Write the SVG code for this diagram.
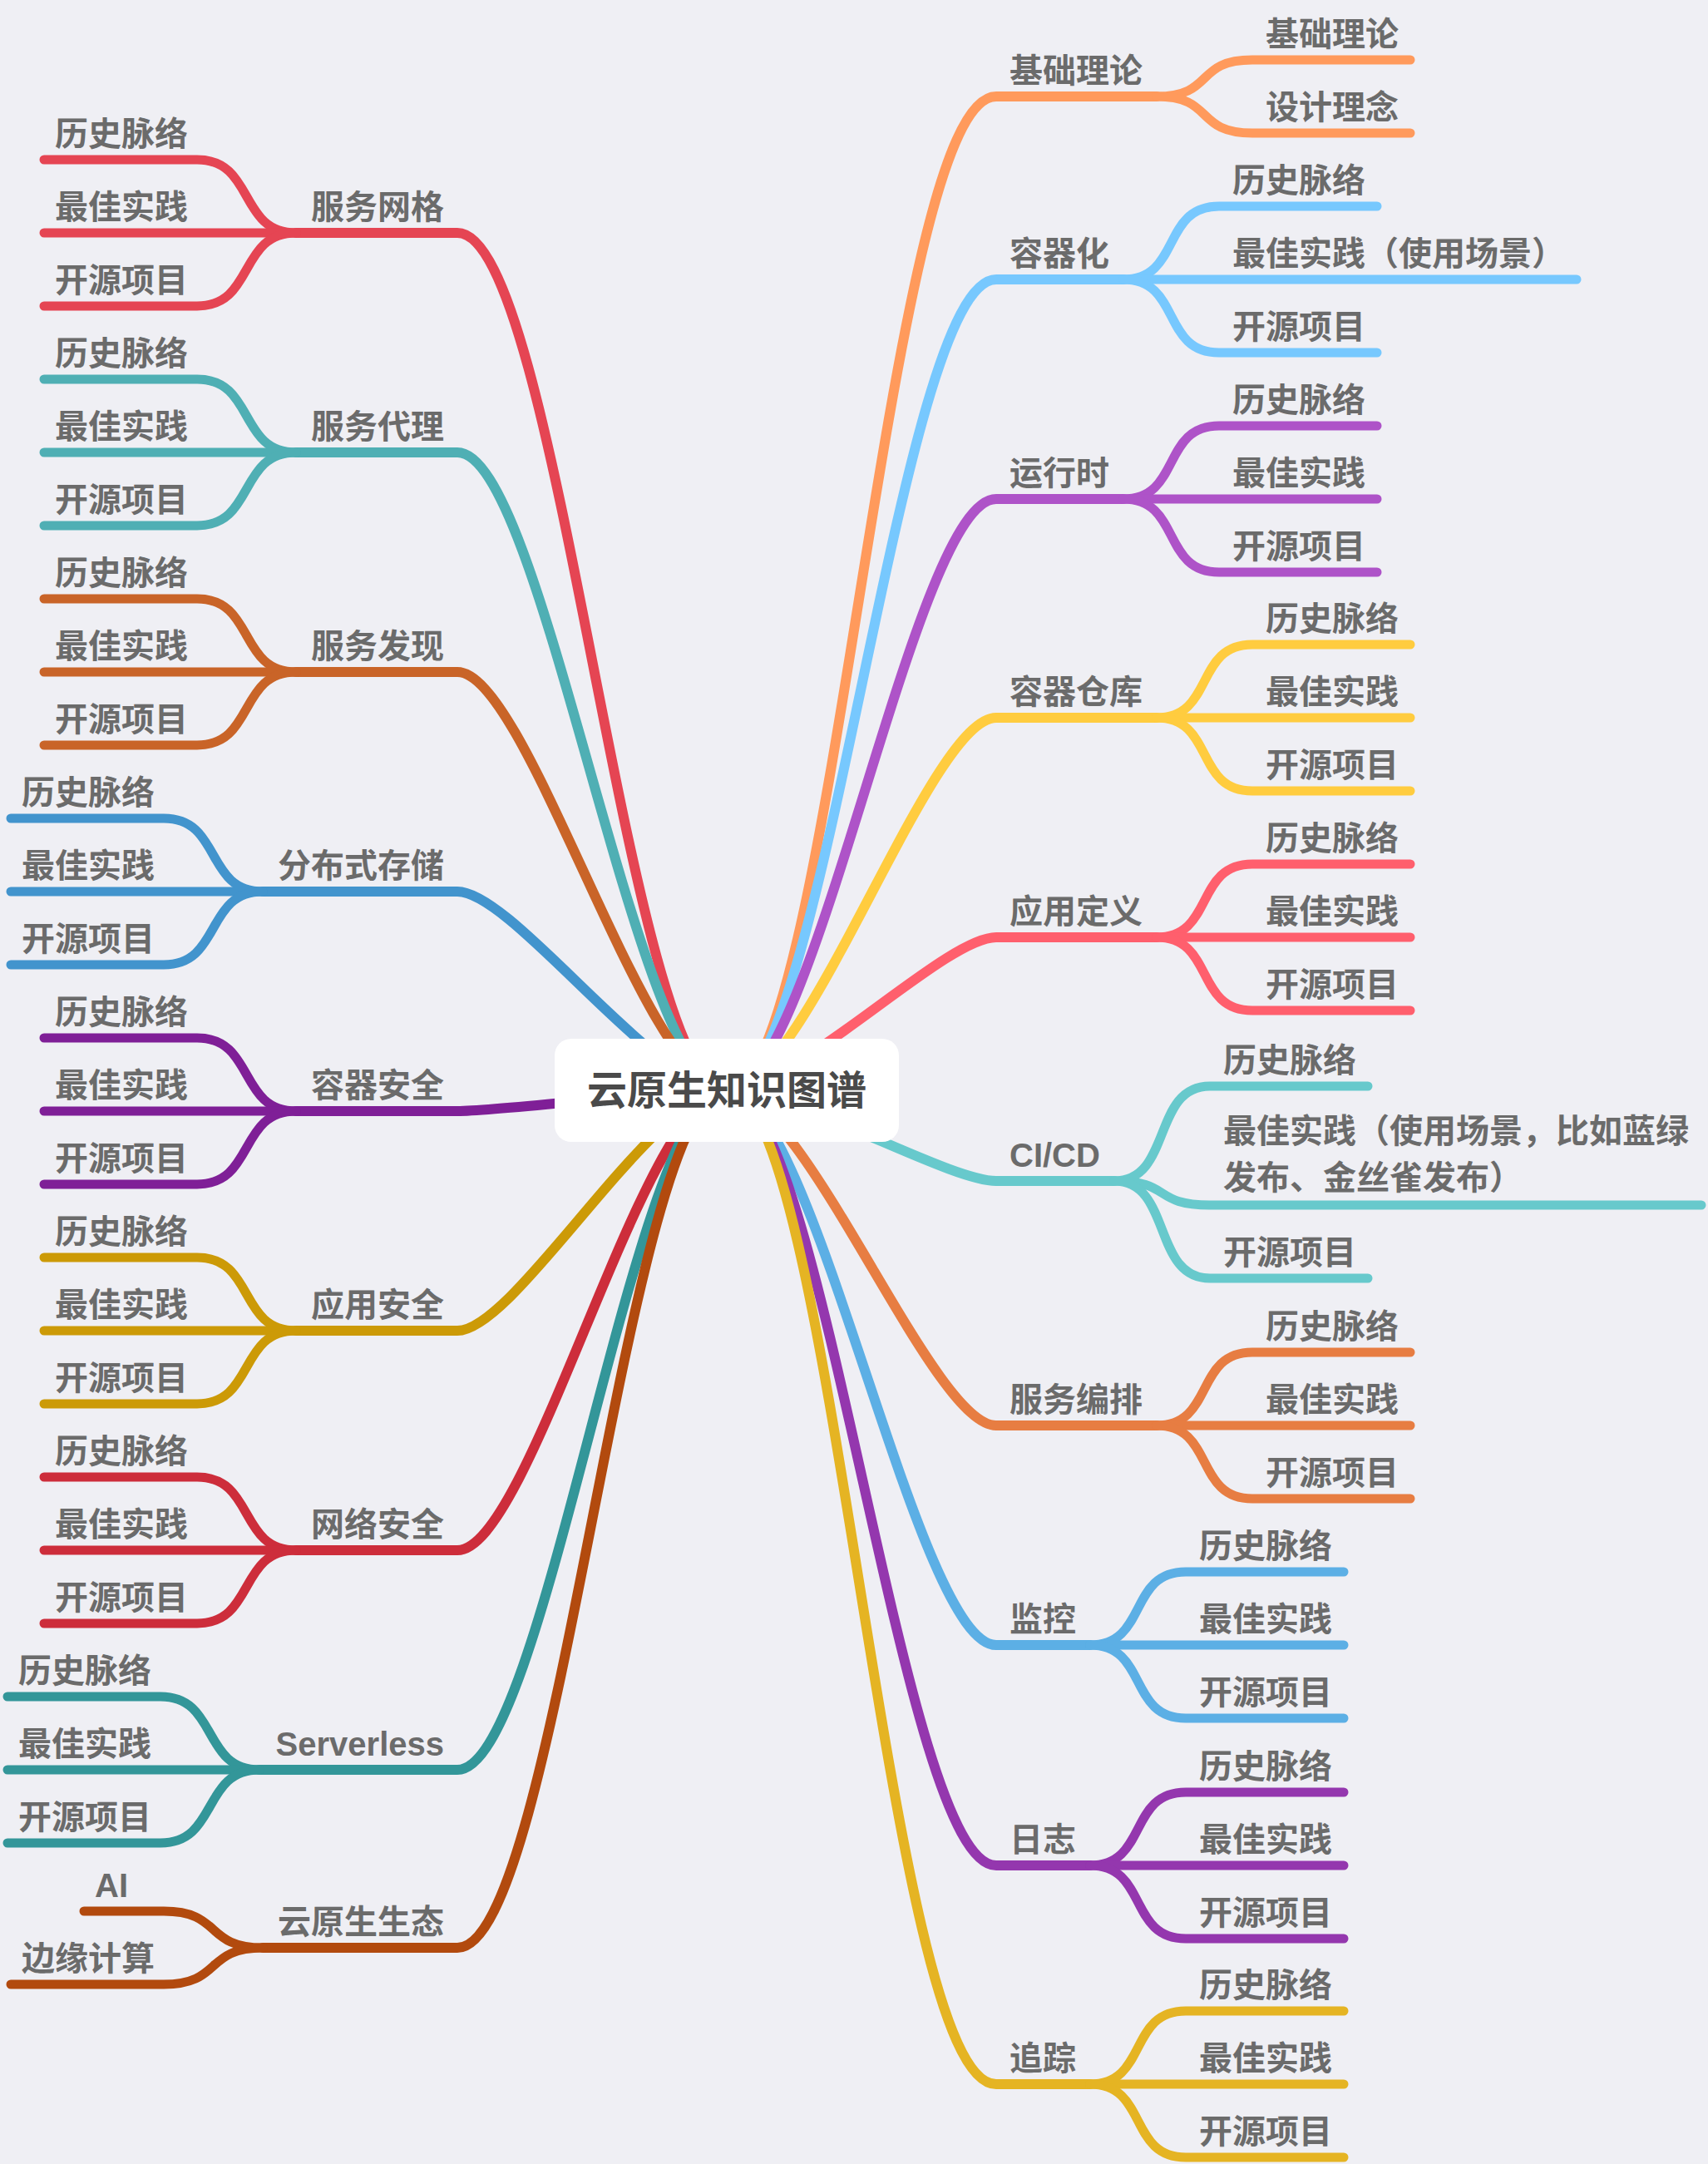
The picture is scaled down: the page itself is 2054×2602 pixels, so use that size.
<svg xmlns="http://www.w3.org/2000/svg" width="2054" height="2602" viewBox="0 0 2054 2602">
  <style>
    .ln { fill: none; stroke-linecap: round; stroke-linejoin: round; }
    .main { stroke-width: 12; }
    .leaf { stroke-width: 11; }
    .t { font-family: "Liberation Sans", "Noto Sans CJK SC", sans-serif; font-weight: 700; font-size: 40px; fill: #6b6b6b; }
    .end { text-anchor: end; }
    .title { font-family: "Liberation Sans", "Noto Sans CJK SC", sans-serif; font-weight: 700; font-size: 48px; fill: #4a4a4a; text-anchor: middle; }
    .r1 { stroke: #ff9a5c; } .r2 { stroke: #77c8fe; } .r3 { stroke: #ae53c8; } .r4 { stroke: #ffcc3f; }
    .r5 { stroke: #ff5f6d; } .r6 { stroke: #67c9cc; } .r7 { stroke: #e77d42; } .r8 { stroke: #5cafe5; }
    .r9 { stroke: #9437ae; } .r10 { stroke: #e5b423; }
    .l1 { stroke: #e54553; } .l2 { stroke: #4fafb4; } .l3 { stroke: #c96428; } .l4 { stroke: #4294cd; }
    .l5 { stroke: #7f1f97; } .l6 { stroke: #cc9a07; } .l7 { stroke: #cd2d3b; } .l8 { stroke: #339699; }
    .l9 { stroke: #b24a0e; }
  </style>
  <rect width="2054" height="2602" fill="#efeff4"/>

  <g id="connectors" class="ln">
    <!-- right main branches -->
    <path class="main r1" d="M874 1311 C1003 1311 1064 116 1198 116 H1391"/>
    <path class="main r2" d="M874 1311 C993 1311 1080 336 1198 336 H1351"/>
    <path class="main r3" d="M874 1311 C981 1311 1098 600 1198 600 H1351"/>
    <path class="main r4" d="M874 1311 C969 1311 1117 863 1198 863 H1391"/>
    <path class="main r5" d="M874 1311 C957 1311 1135 1127 1198 1127 H1391"/>
    <path class="main r6" d="M874 1311 C954 1311 1140 1420 1198 1420 H1340"/>
    <path class="main r7" d="M874 1311 C967 1311 1120 1714 1198 1714 H1391"/>
    <path class="main r8" d="M874 1311 C979 1311 1101 1978 1198 1978 H1311"/>
    <path class="main r9" d="M874 1311 C991 1311 1083 2243 1198 2243 H1311"/>
    <path class="main r10" d="M874 1311 C1003 1311 1064 2506 1198 2506 H1311"/>
    <!-- left main branches -->
    <path class="main l1" d="M874 1311 C753 1311 672 280 550 280 H356"/>
    <path class="main l2" d="M874 1311 C764 1311 654 544 550 544 H356"/>
    <path class="main l3" d="M874 1311 C776 1311 635 808 550 808 H356"/>
    <path class="main l4" d="M874 1311 C788 1311 617 1072 550 1072 H316"/>
    <path class="main l5" d="M874 1311 C798 1311 602 1336 550 1336 H356"/>
    <path class="main l6" d="M874 1311 C786 1311 620 1600 550 1600 H356"/>
    <path class="main l7" d="M874 1311 C774 1311 639 1864 550 1864 H356"/>
    <path class="main l8" d="M874 1311 C762 1311 657 2128 550 2128 H312"/>
    <path class="main l9" d="M874 1311 C753 1311 672 2342 550 2342 H316"/>

    <!-- right sub branches -->
    <path class="leaf r1" d="M1391 116 C1461 116 1436 72 1506 72 H1696"/>
    <path class="leaf r1" d="M1391 116 C1461 116 1436 160 1506 160 H1696"/>

    <path class="leaf r2" d="M1351 336 C1421 336 1396 248 1466 248 H1656"/>
    <path class="leaf r2" d="M1351 336 H1896"/>
    <path class="leaf r2" d="M1351 336 C1421 336 1396 424 1466 424 H1656"/>

    <path class="leaf r3" d="M1351 600 C1421 600 1396 512 1466 512 H1656"/>
    <path class="leaf r3" d="M1351 600 H1656"/>
    <path class="leaf r3" d="M1351 600 C1421 600 1396 688 1466 688 H1656"/>

    <path class="leaf r4" d="M1391 863 C1461 863 1436 775 1506 775 H1696"/>
    <path class="leaf r4" d="M1391 863 H1696"/>
    <path class="leaf r4" d="M1391 863 C1461 863 1436 951 1506 951 H1696"/>

    <path class="leaf r5" d="M1391 1127 C1461 1127 1436 1039 1506 1039 H1696"/>
    <path class="leaf r5" d="M1391 1127 H1696"/>
    <path class="leaf r5" d="M1391 1127 C1461 1127 1436 1215 1506 1215 H1696"/>

    <path class="leaf r6" d="M1340 1420 C1410 1420 1385 1306 1455 1306 H1645"/>
    <path class="leaf r6" d="M1340 1420 C1410 1420 1385 1449 1455 1449 H2046"/>
    <path class="leaf r6" d="M1340 1420 C1410 1420 1385 1537 1455 1537 H1645"/>

    <path class="leaf r7" d="M1391 1714 C1461 1714 1436 1626 1506 1626 H1696"/>
    <path class="leaf r7" d="M1391 1714 H1696"/>
    <path class="leaf r7" d="M1391 1714 C1461 1714 1436 1802 1506 1802 H1696"/>

    <path class="leaf r8" d="M1311 1978 C1381 1978 1356 1890 1426 1890 H1616"/>
    <path class="leaf r8" d="M1311 1978 H1616"/>
    <path class="leaf r8" d="M1311 1978 C1381 1978 1356 2066 1426 2066 H1616"/>

    <path class="leaf r9" d="M1311 2243 C1381 2243 1356 2155 1426 2155 H1616"/>
    <path class="leaf r9" d="M1311 2243 H1616"/>
    <path class="leaf r9" d="M1311 2243 C1381 2243 1356 2331 1426 2331 H1616"/>

    <path class="leaf r10" d="M1311 2506 C1381 2506 1356 2418 1426 2418 H1616"/>
    <path class="leaf r10" d="M1311 2506 H1616"/>
    <path class="leaf r10" d="M1311 2506 C1381 2506 1356 2594 1426 2594 H1616"/>

    <!-- left sub branches -->
    <path class="leaf l1" d="M356 280 C286 280 307 192 237 192 H53"/>
    <path class="leaf l1" d="M356 280 H53"/>
    <path class="leaf l1" d="M356 280 C286 280 307 368 237 368 H53"/>

    <path class="leaf l2" d="M356 544 C286 544 307 456 237 456 H53"/>
    <path class="leaf l2" d="M356 544 H53"/>
    <path class="leaf l2" d="M356 544 C286 544 307 632 237 632 H53"/>

    <path class="leaf l3" d="M356 808 C286 808 307 720 237 720 H53"/>
    <path class="leaf l3" d="M356 808 H53"/>
    <path class="leaf l3" d="M356 808 C286 808 307 896 237 896 H53"/>

    <path class="leaf l4" d="M316 1072 C246 1072 267 984 197 984 H13"/>
    <path class="leaf l4" d="M316 1072 H13"/>
    <path class="leaf l4" d="M316 1072 C246 1072 267 1160 197 1160 H13"/>

    <path class="leaf l5" d="M356 1336 C286 1336 307 1248 237 1248 H53"/>
    <path class="leaf l5" d="M356 1336 H53"/>
    <path class="leaf l5" d="M356 1336 C286 1336 307 1424 237 1424 H53"/>

    <path class="leaf l6" d="M356 1600 C286 1600 307 1512 237 1512 H53"/>
    <path class="leaf l6" d="M356 1600 H53"/>
    <path class="leaf l6" d="M356 1600 C286 1600 307 1688 237 1688 H53"/>

    <path class="leaf l7" d="M356 1864 C286 1864 307 1776 237 1776 H53"/>
    <path class="leaf l7" d="M356 1864 H53"/>
    <path class="leaf l7" d="M356 1864 C286 1864 307 1952 237 1952 H53"/>

    <path class="leaf l8" d="M312 2128 C242 2128 263 2040 193 2040 H9"/>
    <path class="leaf l8" d="M312 2128 H9"/>
    <path class="leaf l8" d="M312 2128 C242 2128 263 2216 193 2216 H9"/>

    <path class="leaf l9" d="M316 2342 C246 2342 267 2298 197 2298 H101"/>
    <path class="leaf l9" d="M316 2342 C246 2342 267 2386 197 2386 H13"/>
  </g>

  <!-- central topic -->
  <g id="node-root">
    <rect x="667" y="1249" width="414" height="124" rx="20" fill="#ffffff"/>
    <text class="title" x="874" y="1328">云原生知识图谱</text>
  </g>

  <!-- right topics -->
  <g id="node-jichu">
    <text class="t" x="1214" y="99">基础理论</text>
    <text class="t" x="1522" y="55">基础理论</text>
    <text class="t" x="1522" y="143">设计理念</text>
  </g>
  <g id="node-rongqihua">
    <text class="t" x="1214" y="319">容器化</text>
    <text class="t" x="1482" y="231">历史脉络</text>
    <text class="t" x="1482" y="319">最佳实践（使用场景）</text>
    <text class="t" x="1482" y="407">开源项目</text>
  </g>
  <g id="node-yunxingshi">
    <text class="t" x="1214" y="583">运行时</text>
    <text class="t" x="1482" y="495">历史脉络</text>
    <text class="t" x="1482" y="583">最佳实践</text>
    <text class="t" x="1482" y="671">开源项目</text>
  </g>
  <g id="node-cangku">
    <text class="t" x="1214" y="846">容器仓库</text>
    <text class="t" x="1522" y="758">历史脉络</text>
    <text class="t" x="1522" y="846">最佳实践</text>
    <text class="t" x="1522" y="934">开源项目</text>
  </g>
  <g id="node-yingyongdingyi">
    <text class="t" x="1214" y="1110">应用定义</text>
    <text class="t" x="1522" y="1022">历史脉络</text>
    <text class="t" x="1522" y="1110">最佳实践</text>
    <text class="t" x="1522" y="1198">开源项目</text>
  </g>
  <g id="node-cicd">
    <text class="t" x="1214" y="1403">CI/CD</text>
    <text class="t" x="1471" y="1289">历史脉络</text>
    <text class="t" x="1471" y="1374">最佳实践（使用场景，比如蓝绿</text>
    <text class="t" x="1471" y="1430">发布、金丝雀发布）</text>
    <text class="t" x="1471" y="1520">开源项目</text>
  </g>
  <g id="node-bianpai">
    <text class="t" x="1214" y="1697">服务编排</text>
    <text class="t" x="1522" y="1609">历史脉络</text>
    <text class="t" x="1522" y="1697">最佳实践</text>
    <text class="t" x="1522" y="1785">开源项目</text>
  </g>
  <g id="node-jiankong">
    <text class="t" x="1214" y="1961">监控</text>
    <text class="t" x="1442" y="1873">历史脉络</text>
    <text class="t" x="1442" y="1961">最佳实践</text>
    <text class="t" x="1442" y="2049">开源项目</text>
  </g>
  <g id="node-rizhi">
    <text class="t" x="1214" y="2226">日志</text>
    <text class="t" x="1442" y="2138">历史脉络</text>
    <text class="t" x="1442" y="2226">最佳实践</text>
    <text class="t" x="1442" y="2314">开源项目</text>
  </g>
  <g id="node-zhuizong">
    <text class="t" x="1214" y="2489">追踪</text>
    <text class="t" x="1442" y="2401">历史脉络</text>
    <text class="t" x="1442" y="2489">最佳实践</text>
    <text class="t" x="1442" y="2577">开源项目</text>
  </g>

  <!-- left topics -->
  <g id="node-wangge">
    <text class="t end" x="534" y="263">服务网格</text>
    <text class="t" x="66" y="175">历史脉络</text>
    <text class="t" x="66" y="263">最佳实践</text>
    <text class="t" x="66" y="351">开源项目</text>
  </g>
  <g id="node-daili">
    <text class="t end" x="534" y="527">服务代理</text>
    <text class="t" x="66" y="439">历史脉络</text>
    <text class="t" x="66" y="527">最佳实践</text>
    <text class="t" x="66" y="615">开源项目</text>
  </g>
  <g id="node-faxian">
    <text class="t end" x="534" y="791">服务发现</text>
    <text class="t" x="66" y="703">历史脉络</text>
    <text class="t" x="66" y="791">最佳实践</text>
    <text class="t" x="66" y="879">开源项目</text>
  </g>
  <g id="node-cunchu">
    <text class="t end" x="534" y="1055">分布式存储</text>
    <text class="t" x="26" y="967">历史脉络</text>
    <text class="t" x="26" y="1055">最佳实践</text>
    <text class="t" x="26" y="1143">开源项目</text>
  </g>
  <g id="node-rongqianquan">
    <text class="t end" x="534" y="1319">容器安全</text>
    <text class="t" x="66" y="1231">历史脉络</text>
    <text class="t" x="66" y="1319">最佳实践</text>
    <text class="t" x="66" y="1407">开源项目</text>
  </g>
  <g id="node-yingyonganquan">
    <text class="t end" x="534" y="1583">应用安全</text>
    <text class="t" x="66" y="1495">历史脉络</text>
    <text class="t" x="66" y="1583">最佳实践</text>
    <text class="t" x="66" y="1671">开源项目</text>
  </g>
  <g id="node-wangluoanquan">
    <text class="t end" x="534" y="1847">网络安全</text>
    <text class="t" x="66" y="1759">历史脉络</text>
    <text class="t" x="66" y="1847">最佳实践</text>
    <text class="t" x="66" y="1935">开源项目</text>
  </g>
  <g id="node-serverless">
    <text class="t end" x="534" y="2111">Serverless</text>
    <text class="t" x="22" y="2023">历史脉络</text>
    <text class="t" x="22" y="2111">最佳实践</text>
    <text class="t" x="22" y="2199">开源项目</text>
  </g>
  <g id="node-shengtai">
    <text class="t end" x="534" y="2325">云原生生态</text>
    <text class="t" x="114" y="2281">AI</text>
    <text class="t" x="26" y="2369">边缘计算</text>
  </g>
</svg>
